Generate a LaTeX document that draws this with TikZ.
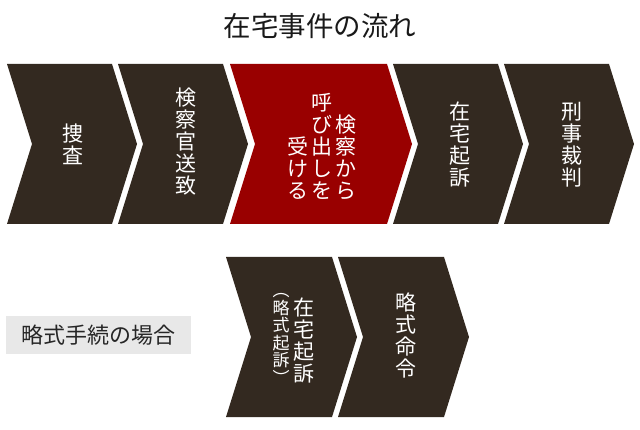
\documentclass[tikz,border=0pt]{standalone}
\usepackage{fontspec}
\usepackage{xcolor}
\usepackage{tikz}
\newfontfamily\jp{Noto Sans CJK JP}
\definecolor{scuro}{HTML}{332920}
\definecolor{rosso}{HTML}{990000}
\definecolor{grigio}{HTML}{E8E8E8}
% freccia: colore, sinistra, destra, alto
\newcommand{\freccia}[4]{\fill[#1] (#2,#4) -- (#3,#4) -- ++(25,80) -- (#3,#4+160) -- (#2,#4+160) -- ++(25,-80) -- cycle;}

\begin{document}
\begin{tikzpicture}[x=1pt, y=-1pt,
		testo/.style={text=white, align=center, inner sep=0pt, font=\jp\fontsize{21}{22}\selectfont},
		piccolo/.style={text=white, align=center, inner sep=0pt, font=\jp\fontsize{17}{17.5}\selectfont}]
		\useasboundingbox (0,0) rectangle (640,430);
		
		% Titolo
		\node[font=\jp\fontsize{27.5}{28}\selectfont, text=black!90] (Titolo) at (320,26) {在宅事件の流れ};
		
		% Frecce in alto
		\freccia{scuro}{7}{112}{64}
		\freccia{scuro}{118}{223}{64}
		\freccia{rosso}{230}{387}{64}
		\freccia{scuro}{393}{498}{64}
		\freccia{scuro}{504}{609}{64}
		
		% Testi in alto
		\node[testo] (Sousa) at (73,144) {捜\\査};
		\node[testo] (Souchi) at (186,142) {検\\察\\官\\送\\致};
		\node[testo, anchor=south] (Kensatsu) at (346,200) {検\\察\\か\\ら};
		\node[testo, anchor=south] (Yobidashi) at (322,200) {呼\\び\\出\\し\\を};
		\node[testo, anchor=south] (Ukeru) at (298,200) {受\\け\\る};
		\node[testo] (Kiso) at (460,145) {在\\宅\\起\\訴};
		\node[testo] (Saiban) at (572,145) {刑\\事\\裁\\判};
		
		% Frecce in basso
		\freccia{scuro}{226}{332}{257}
		\freccia{scuro}{338}{444}{257}
		
		% Testi in basso
		\node[fill=grigio, minimum width=185pt, minimum height=38pt, inner sep=0pt, font=\jp\fontsize{22}{23}\selectfont, text=black!85] (Ryakushiki) at (98.5,335) {略式手続の場合};
		\node[testo, anchor=south] (KisoB) at (304,383) {在\\宅\\起\\訴};
		\node[piccolo] (RyakuKiso) at (281,339) {︵\\略\\式\\起\\訴\\︶};
		\node[testo] (Meirei) at (406,335) {略\\式\\命\\令};
	\end{tikzpicture}
\end{document}
